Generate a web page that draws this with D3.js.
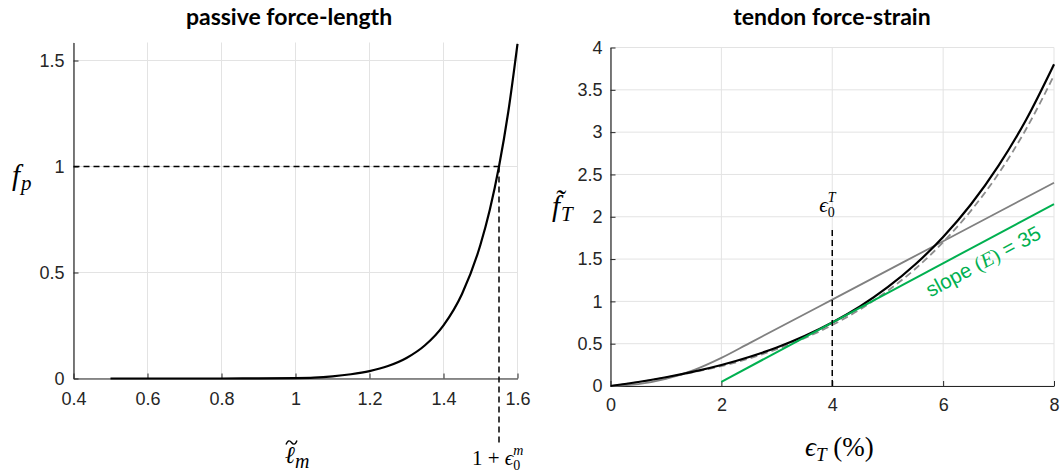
<!DOCTYPE html>
<html>
<head>
<meta charset="utf-8">
<script src="https://cdn.jsdelivr.net/npm/d3@7"></script>
<style>
  html, body { margin: 0; padding: 0; background: #fff; }
  svg { display: block; }
  .math { font-family: "Liberation Serif", "DejaVu Serif", serif; font-style: italic; fill: #000; }
  .title { font-family: Lato, "Open Sans", sans-serif; font-weight: bold; font-size: 23px; fill: #000; }
</style>
</head>
<body>
<svg id="chart" width="1063" height="473"></svg>
<script>
// ---- passive force-length (normalised fibre length vs passive force)
const passiveLength = [0.5, 0.6, 0.7, 0.8, 0.9, 1.0, 1.05, 1.1, 1.15, 1.2, 1.25, 1.3, 1.35, 1.4, 1.45, 1.5, 1.525, 1.55, 1.575, 1.6];
const passiveForce  = [0, 0, 0, 0, 0.001, 0.002, 0.004, 0.010, 0.020, 0.035, 0.059, 0.097, 0.157, 0.251, 0.399, 0.632, 0.795, 1.0, 1.257, 1.579];
const passiveXTicks = [0.4, 0.6, 0.8, 1, 1.2, 1.4, 1.6];
const passiveYTicks = [0, 0.5, 1, 1.5];
const fiberStrainRef = 0.55;   // 1 + eps0^m marker

// ---- tendon force-strain (strain in %)
const tendonStrain = [0, 0.5, 1, 1.5, 2, 2.5, 3, 3.5, 4, 4.5, 5, 5.5, 6, 6.5, 7, 7.5, 8];
const tendonForce  = [0, 0.047, 0.103, 0.169, 0.248, 0.343, 0.455, 0.590, 0.750, 0.940, 1.167, 1.438, 1.761, 2.145, 2.604, 3.150, 3.801];
const tendonAltForce = [0, 0.045, 0.100, 0.165, 0.235, 0.325, 0.435, 0.565, 0.720, 0.905, 1.125, 1.385, 1.700, 2.070, 2.510, 3.040, 3.670];
const toeLinearStrain = [0, 0.5, 1, 1.5, 2, 2.5, 4, 6, 8];
const toeLinearForce  = [0, 0.021, 0.083, 0.187, 0.332, 0.504, 1.021, 1.711, 2.401];
const slopeStrain = [2, 8];
const slopeForce  = [0.05, 2.15];
const tendonStrainRef = 4;      // eps0^T marker
const tendonRefTop = 1.85;
const tendonXTicks = [0, 2, 4, 6, 8];
const tendonYTicks = [0, 0.5, 1, 1.5, 2, 2.5, 3, 3.5, 4];

const svg = d3.select("#chart");
const axisColor = "#262626";
const gridColor = "#e3e3e3";
const green = "#00b050";
const tickFont = "Liberation Sans, Arial, Helvetica, sans-serif";

function drawFrame(g, x, y, xTicks, yTicks, fmtX, fmtY, padX, padY) {
  // grid
  g.append("g").selectAll("line").data(xTicks).join("line")
    .attr("x1", d => x(d)).attr("x2", d => x(d))
    .attr("y1", y.range()[0]).attr("y2", y.range()[1])
    .attr("stroke", gridColor).attr("stroke-width", 1);
  g.append("g").selectAll("line").data(yTicks).join("line")
    .attr("x1", x.range()[0]).attr("x2", x.range()[1])
    .attr("y1", d => y(d)).attr("y2", d => y(d))
    .attr("stroke", gridColor).attr("stroke-width", 1);
  // axes with inward ticks
  const ax = g.append("g").attr("transform", `translate(0,${y.range()[0]})`)
    .call(d3.axisBottom(x).tickValues(xTicks).tickFormat(fmtX).tickSizeInner(-5).tickSizeOuter(0).tickPadding(padX));
  const ay = g.append("g").attr("transform", `translate(${x.range()[0]},0)`)
    .call(d3.axisLeft(y).tickValues(yTicks).tickFormat(fmtY).tickSizeInner(-5).tickSizeOuter(0).tickPadding(padY));
  [ax, ay].forEach(a => {
    a.attr("font-family", tickFont).attr("font-size", 18);
    a.select(".domain").attr("stroke", axisColor).attr("stroke-width", 1.2);
    a.selectAll(".tick line").attr("stroke", axisColor).attr("stroke-width", 1);
    a.selectAll(".tick text").attr("fill", axisColor);
  });
}

// ================= left panel =================
const xL = d3.scaleLinear().domain([0.4, 1.6]).range([73.5, 517.5]);
const yL = d3.scaleLinear().domain([0, 1.585]).range([378.5, 42.5]);
const gL = svg.append("g");
drawFrame(gL, xL, yL, passiveXTicks, passiveYTicks, d3.format("~g"), d3.format("~g"), 14, 9);

const passivePts = passiveLength.map((l, i) => [l, passiveForce[i]]);
gL.append("path")
  .attr("d", d3.line().x(d => xL(d[0])).y(d => yL(d[1])).curve(d3.curveMonotoneX)(passivePts))
  .attr("fill", "none").attr("stroke", "#000").attr("stroke-width", 2.2);

// reference markers at f_p = 1
gL.append("line")
  .attr("x1", xL(0.4)).attr("x2", xL(1 + fiberStrainRef))
  .attr("y1", yL(1)).attr("y2", yL(1))
  .attr("stroke", "#000").attr("stroke-width", 1.5).attr("stroke-dasharray", "6,4");
gL.append("line")
  .attr("x1", xL(1 + fiberStrainRef)).attr("x2", xL(1 + fiberStrainRef))
  .attr("y1", yL(1)).attr("y2", 443)
  .attr("stroke", "#000").attr("stroke-width", 1.5).attr("stroke-dasharray", "6,4");

gL.append("text").attr("class", "title").attr("x", 289).attr("y", 25)
  .attr("text-anchor", "middle").text("passive force-length");

// y label f_p
const fp = gL.append("text").attr("class", "math").attr("x", 12).attr("y", 185).attr("font-size", 29);
fp.append("tspan").text("f");
fp.append("tspan").attr("font-size", 21).attr("dx", 1).attr("dy", 5).text("p");

// x label  l~_m : ell with subscript m, tilde accent stroked above the ell
const lmX = 285, lmY = 463;
const lm = gL.append("text").attr("class", "math").attr("x", lmX).attr("y", lmY).attr("font-size", 24);
const ell = lm.append("tspan").text("\u2113");
lm.append("tspan").attr("font-size", 20).attr("dy", 5).text("m");
const cx = lmX + ell.node().getComputedTextLength() / 2 + 1.5;
const acc = d3.path();
acc.moveTo(cx - 5.5, 444.5);
acc.bezierCurveTo(cx - 3.5, 439.5, cx - 1.5, 440.5, cx, 442.5);
acc.bezierCurveTo(cx + 1.5, 444.5, cx + 3.5, 445.5, cx + 5.5, 440.5);
gL.append("path").attr("d", acc.toString()).attr("fill", "none").attr("stroke", "#000").attr("stroke-width", 1.4);

// 1 + eps0^m
const em = gL.append("text").attr("class", "math").attr("x", 472).attr("y", 465).attr("font-size", 21);
em.append("tspan").attr("font-style", "normal").text("1 + ");
em.append("tspan").text("\u03f5");
em.append("tspan").attr("font-size", 14).attr("font-style", "normal").attr("dy", 5).text("0");
em.append("tspan").attr("font-size", 14).attr("dx", -7).attr("dy", -15).text("m");

// ================= right panel =================
const xR = d3.scaleLinear().domain([0, 8]).range([610.5, 1054]);
const yR = d3.scaleLinear().domain([0, 4]).range([386, 47.5]);
const gR = svg.append("g");
drawFrame(gR, xR, yR, tendonXTicks, tendonYTicks, d3.format("~g"), d3.format("~g"), 12, 8);

const lineR = d3.line().x(d => xR(d[0])).y(d => yR(d[1])).curve(d3.curveMonotoneX);

// linear-with-toe model
gR.append("path")
  .attr("d", lineR(toeLinearStrain.map((s, i) => [s, toeLinearForce[i]])))
  .attr("fill", "none").attr("stroke", "#808080").attr("stroke-width", 1.8);
// alternative fit (dashed)
gR.append("path")
  .attr("d", lineR(tendonStrain.map((s, i) => [s, tendonAltForce[i]])))
  .attr("fill", "none").attr("stroke", "#8c8c8c").attr("stroke-width", 1.8).attr("stroke-dasharray", "7,4");
// exponential tendon curve
gR.append("path")
  .attr("d", lineR(tendonStrain.map((s, i) => [s, tendonForce[i]])))
  .attr("fill", "none").attr("stroke", "#000").attr("stroke-width", 2.2);
// tangent slope at eps0^T
gR.append("path")
  .attr("d", d3.line().x(d => xR(d[0])).y(d => yR(d[1]))(slopeStrain.map((s, i) => [s, slopeForce[i]])))
  .attr("fill", "none").attr("stroke", green).attr("stroke-width", 2);

// eps0^T marker
gR.append("line")
  .attr("x1", xR(tendonStrainRef)).attr("x2", xR(tendonStrainRef))
  .attr("y1", yR(0)).attr("y2", yR(tendonRefTop))
  .attr("stroke", "#000").attr("stroke-width", 1.5).attr("stroke-dasharray", "6,4");
const eT = gR.append("text").attr("class", "math").attr("x", xR(tendonStrainRef) - 13).attr("y", 212).attr("font-size", 21);
eT.append("tspan").text("\u03f5");
eT.append("tspan").attr("font-size", 14).attr("font-style", "normal").attr("dy", 5).text("0");
eT.append("tspan").attr("font-size", 14).attr("dx", -7).attr("dy", -15).text("T");

// slope label, parallel to the green line and just below it
const ang = Math.atan2(yR(slopeForce[1]) - yR(slopeForce[0]), xR(slopeStrain[1]) - xR(slopeStrain[0])) * 180 / Math.PI;
const lx = 6.8, ly = slopeForce[0] + (slopeForce[1] - slopeForce[0]) * (lx - slopeStrain[0]) / (slopeStrain[1] - slopeStrain[0]);
const sl = gR.append("text")
  .attr("transform", `translate(${xR(lx) - 1},${yR(ly) + 28}) rotate(${ang})`)
  .attr("text-anchor", "middle")
  .attr("font-family", tickFont).attr("font-size", 20.5).attr("fill", green);
sl.append("tspan").text("slope ");
sl.append("tspan").attr("font-family", "Liberation Serif, serif").text("(");
sl.append("tspan").attr("font-family", "Liberation Serif, serif").attr("font-style", "italic").text("E");
sl.append("tspan").attr("font-family", "Liberation Serif, serif").text(")");
sl.append("tspan").text(" = 35");

gR.append("text").attr("class", "title").attr("x", 832).attr("y", 25)
  .attr("text-anchor", "middle").text("tendon force-strain");

// y label f~_T
const fT = gR.append("text").attr("class", "math").attr("x", 552).attr("y", 216).attr("font-size", 29);
fT.append("tspan").text("f\u0303");
fT.append("tspan").attr("font-size", 21).attr("dx", 1).attr("dy", 5).text("T");

// x label eps_T (%)
const xT = gR.append("text").attr("class", "math").attr("x", 805).attr("y", 456).attr("font-size", 27);
xT.append("tspan").text("\u03f5");
xT.append("tspan").attr("font-size", 19).attr("dy", 5).text("T");
xT.append("tspan").attr("font-style", "normal").attr("dy", -5).text(" (%)");
</script>
</body>
</html>
